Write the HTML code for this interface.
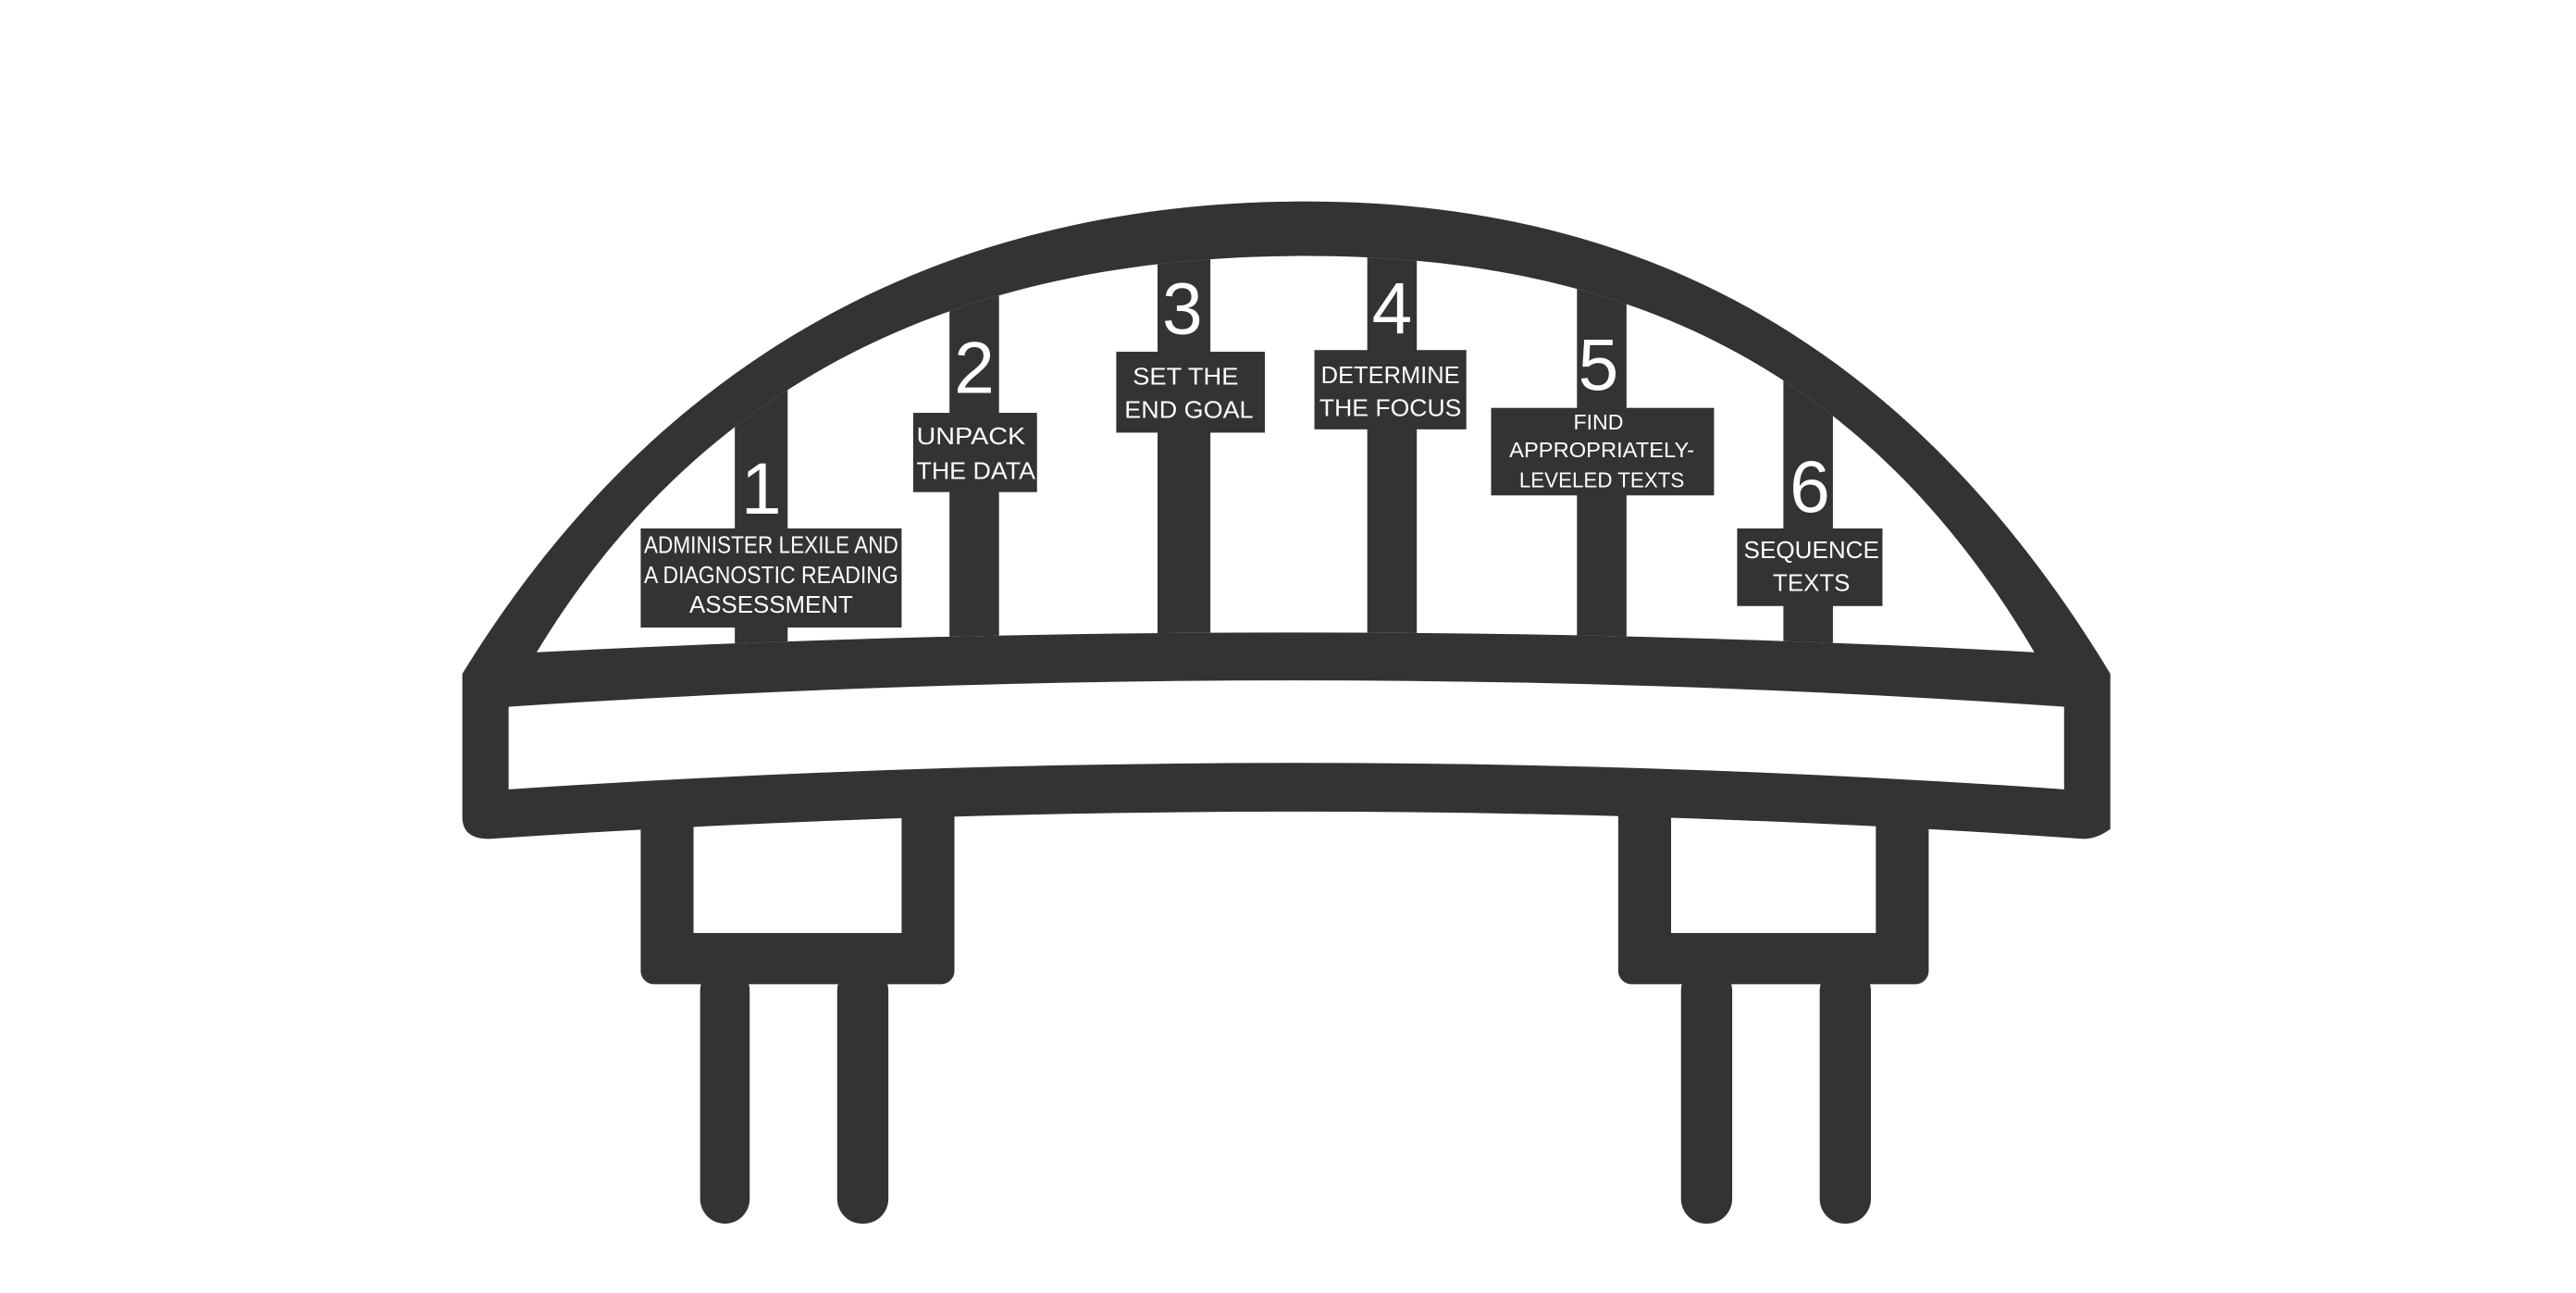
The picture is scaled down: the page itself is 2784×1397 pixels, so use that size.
<!DOCTYPE html>
<html><head><meta charset="utf-8"><style>
html,body{margin:0;padding:0;background:#fff;}
svg{display:block;}
text{font-family:"Liberation Sans Narrow","Liberation Sans",sans-serif;fill:#fff;text-anchor:middle;}
</style></head><body>
<svg width="2784" height="1397" viewBox="0 0 1560 783" preserveAspectRatio="none" xmlns="http://www.w3.org/2000/svg">
<defs>
<clipPath id="inner"><path d="M325,395 C440,205 620,155 790,155 C960,155 1120,205 1232,395 Q790,371 325,395 Z"/></clipPath>
</defs>
<g fill="#333">
<!-- legs -->
<rect x="424" y="585" width="30" height="156" rx="15"/>
<rect x="507" y="585" width="31" height="156" rx="15"/>
<rect x="1018" y="585" width="31" height="156" rx="15"/>
<rect x="1102" y="585" width="31" height="156" rx="15"/>
<!-- piers -->
<rect x="388" y="480" width="190" height="116" rx="8"/>
<rect x="980" y="480" width="188" height="116" rx="8"/>
</g>
<rect x="420" y="495" width="126" height="70" fill="#fff"/>
<rect x="1012" y="495" width="124" height="70" fill="#fff"/>
<!-- arch + deck -->
<path d="M280,408 C420,180 620,122 790,122 C960,122 1140,180 1278,408 L1278,502 Q1270,508 1262,508 Q790,475 296,508 Q280,508 280,495 Z" fill="#333"/>
<path d="M325,395 C440,205 620,155 790,155 C960,155 1120,205 1232,395 Q790,371 325,395 Z" fill="#fff"/>
<path d="M308,428 Q790,396 1250,428 L1250,478 Q790,446 308,478 Z" fill="#fff"/>
<!-- posts -->
<g fill="#333" clip-path="url(#inner)">
<rect x="445" y="100" width="32" height="300"/>
<rect x="575" y="100" width="30" height="300"/>
<rect x="701" y="100" width="32" height="300"/>
<rect x="828" y="100" width="30" height="300"/>
<rect x="955" y="100" width="30" height="300"/>
<rect x="1080" y="100" width="30" height="300"/>
</g>
<!-- label boxes -->
<g fill="#333">
<rect x="388" y="320" width="158" height="60"/>
<rect x="553" y="250" width="75" height="48"/>
<rect x="676" y="213" width="90" height="49"/>
<rect x="796" y="212" width="92" height="48"/>
<rect x="903" y="247" width="135" height="53"/>
<rect x="1052" y="320" width="88" height="47"/>
</g>
<!-- digits -->
<g font-size="44">
<text x="461" y="311">1</text>
<text x="590" y="238">2</text>
<text x="716" y="202">3</text>
<text x="843" y="202">4</text>
<text x="968" y="236">5</text>
<text x="1096" y="310">6</text>
</g>
<g font-size="14.5">
<text x="467" y="335" textLength="154" lengthAdjust="spacingAndGlyphs">ADMINISTER LEXILE AND</text>
<text x="467" y="353" textLength="154" lengthAdjust="spacingAndGlyphs">A DIAGNOSTIC READING</text>
<text x="467" y="371">ASSESSMENT</text>
<text x="588" y="269" textLength="66" lengthAdjust="spacingAndGlyphs">UNPACK</text>
<text x="591" y="290" textLength="72" lengthAdjust="spacingAndGlyphs">THE DATA</text>
<text x="718" y="233" textLength="64" lengthAdjust="spacingAndGlyphs">SET THE</text>
<text x="720" y="253" textLength="78" lengthAdjust="spacingAndGlyphs">END GOAL</text>
<text x="842" y="232" textLength="84" lengthAdjust="spacingAndGlyphs">DETERMINE</text>
<text x="842" y="252" textLength="86" lengthAdjust="spacingAndGlyphs">THE FOCUS</text>
<text x="1097" y="338" textLength="82" lengthAdjust="spacingAndGlyphs">SEQUENCE</text>
<text x="1097" y="358">TEXTS</text>
</g>
<g font-size="13">
<text x="968" y="260">FIND</text>
<text x="970" y="277" textLength="112" lengthAdjust="spacingAndGlyphs">APPROPRIATELY-</text>
<text x="970" y="295" textLength="100" lengthAdjust="spacingAndGlyphs">LEVELED TEXTS</text>
</g>
</svg>
</body></html>
